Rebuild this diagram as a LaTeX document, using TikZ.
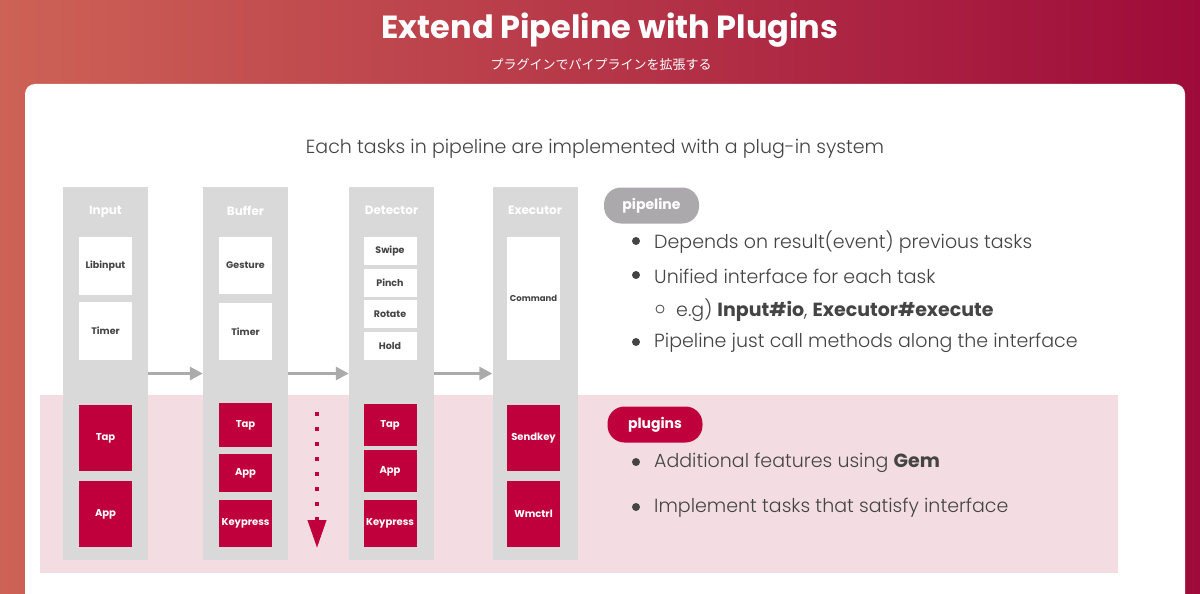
\documentclass[tikz,border=0pt]{standalone}
\usepackage{fontspec}
\setmainfont{Poppins}
\newfontfamily\lightfont{Poppins Light}
\newfontfamily\jpfont{Noto Sans CJK JP}
\usetikzlibrary{positioning, arrows.meta}

\definecolor{bgleft}{HTML}{CD6256}
\definecolor{bgright}{HTML}{9E0B3A}
\definecolor{colgray}{HTML}{D9D9D9}
\definecolor{plugred}{HTML}{C0003C}
\definecolor{bandpink}{HTML}{F3DDE2}
\definecolor{pillgray}{HTML}{ABA9AC}
\definecolor{textgray}{HTML}{444444}
\definecolor{arrowgray}{HTML}{ABABAB}

\tikzstyle{column} = [
    rectangle,
    fill=colgray,
    minimum width=85,
    minimum height=373,
    inner sep=0
]
\tikzstyle{coltitle} = [
    text=white,
    font=\bfseries\fontsize{12}{14}\selectfont
]
\tikzstyle{taskbox} = [
    rectangle,
    fill=white,
    minimum width=53,
    inner sep=0,
    text=textgray,
    font=\bfseries\fontsize{9.5}{11}\selectfont
]
\tikzstyle{pluginbox} = [
    rectangle,
    fill=plugred,
    minimum width=53,
    inner sep=0,
    text=white,
    font=\bfseries\fontsize{10}{12}\selectfont
]
\tikzstyle{pill} = [
    rectangle,
    rounded corners=17,
    minimum width=95,
    minimum height=36,
    text=white,
    font=\bfseries\fontsize{14}{16}\selectfont
]
\tikzstyle{bullettext} = [
    anchor=west,
    inner sep=0,
    text=textgray,
    font=\lightfont\fontsize{19}{22}\selectfont
]
\tikzstyle{dot} = [circle, fill=textgray, inner sep=0, minimum size=8]
\tikzstyle{ring} = [circle, draw=textgray, line width=0.8, inner sep=0, minimum size=8]
\tikzstyle{flowarrow} = [arrowgray, line width=3, -{Triangle[length=13, width=13]}]

\begin{document}
\begin{tikzpicture}[x=1pt, y=-1pt]

\useasboundingbox (0,0) rectangle (1200,594);
\shade [left color=bgleft, right color=bgright] (0,0) rectangle (1200,594);
\fill [white, rounded corners=10] (25,84) rectangle (1185,640);
\fill [bandpink] (40,395) rectangle (1118,573);

\node (title) at (610,30) {\bfseries\fontsize{32}{38}\selectfont\color{white}Extend Pipeline with Plugins};
\node (subtitle) at (601,65) {\jpfont\fontsize{13}{15}\selectfont\color{white}プラグインでパイプラインを拡張する};
\node (heading) at (595,149) {\lightfont\fontsize{19}{22}\selectfont\color{textgray}Each tasks in pipeline are implemented with a plug-in system};

% tasks
\node (input) [column] at (105.5,373.5) {};
\node (buffer) [column] at (245.5,373.5) {};
\node (detector) [column] at (391.5,373.5) {};
\node (executor) [column] at (535,373.5) {};

\node (inputlabel) [coltitle, below=16pt of input.north] {Input};
\node (bufferlabel) [coltitle, below=16pt of buffer.north] {Buffer};
\node (detectorlabel) [coltitle, below=16pt of detector.north] {Detector};
\node (executorlabel) [coltitle, below=16pt of executor.north] {Executor};

\node (libinput) [taskbox, minimum height=58] at (105.5,266) {Libinput};
\node (inputtimer) [taskbox, minimum height=58] at (105.5,331) {Timer};

\node (gesture) [taskbox, minimum height=57] at (245.5,265.5) {Gesture};
\node (buffertimer) [taskbox, minimum height=57] at (245.5,331.5) {Timer};

\node (swipe) [taskbox, minimum height=28] at (390,251) {Swipe};
\node (pinch) [taskbox, minimum height=28] at (390,283) {Pinch};
\node (rotate) [taskbox, minimum height=28] at (390,314) {Rotate};
\node (hold) [taskbox, minimum height=28] at (390,346) {Hold};

\node (command) [taskbox, minimum height=123, font=\bfseries\fontsize{8.5}{10}\selectfont] at (533.5,298.5) {Command};

\draw [flowarrow] (input) -- (buffer);
\draw [flowarrow] (buffer) -- (detector);
\draw [flowarrow] (detector) -- (executor);

% plugins
\node (inputtap) [pluginbox, minimum height=66] at (105.5,438) {Tap};
\node (inputapp) [pluginbox, minimum height=66] at (105.5,514) {App};

\node (buffertap) [pluginbox, minimum height=44] at (245.5,425) {Tap};
\node (bufferapp) [pluginbox, minimum height=38] at (245.5,473) {App};
\node (bufferkeypress) [pluginbox, minimum height=47] at (245.5,523.5) {Keypress};

\node (detectortap) [pluginbox, minimum height=42] at (390,425) {Tap};
\node (detectorapp) [pluginbox, minimum height=42] at (390,471) {App};
\node (detectorkeypress) [pluginbox, minimum height=47] at (390,523.5) {Keypress};

\node (sendkey) [pluginbox, minimum height=66] at (533.5,438) {Sendkey};
\node (wmctrl) [pluginbox, minimum height=66] at (533.5,514) {Wmctrl};

\coordinate (dotstart) at (317,412);
\coordinate (dotend) at (317,548);
\draw [plugred, line width=4, dash pattern=on 4 off 11, -{Triangle[length=28, width=18]}] (dotstart) -- (dotend);

% notes
\node (pipelinepill) [pill, fill=pillgray] at (651.5,205.5) {pipeline};
\node (depdot) [dot] at (636,241) {};
\node (depends) [bullettext] at (654,242) {Depends on result(event) previous tasks};
\node (unidot) [dot] at (636,275) {};
\node (unified) [bullettext] at (654,276) {Unified interface for each task};
\node (egring) [ring] at (660,309) {};
\node (eg) [bullettext] at (676,310) {e.g) {\fontspec{Poppins}\bfseries Input\#io}, {\fontspec{Poppins}\bfseries Executor\#execute}};
\node (calldot) [dot] at (636,342) {};
\node (call) [bullettext] at (654,343) {Pipeline just call methods along the interface};

\node (pluginspill) [pill, fill=plugred] at (655,424.5) {plugins};
\node (gemdot) [dot] at (636,462) {};
\node (gem) [bullettext] at (654,463) {Additional features using {\fontspec{Poppins}\bfseries Gem}};
\node (impldot) [dot] at (636,507) {};
\node (impl) [bullettext] at (654,508) {Implement tasks that satisfy interface};

\end{tikzpicture}
\end{document}
